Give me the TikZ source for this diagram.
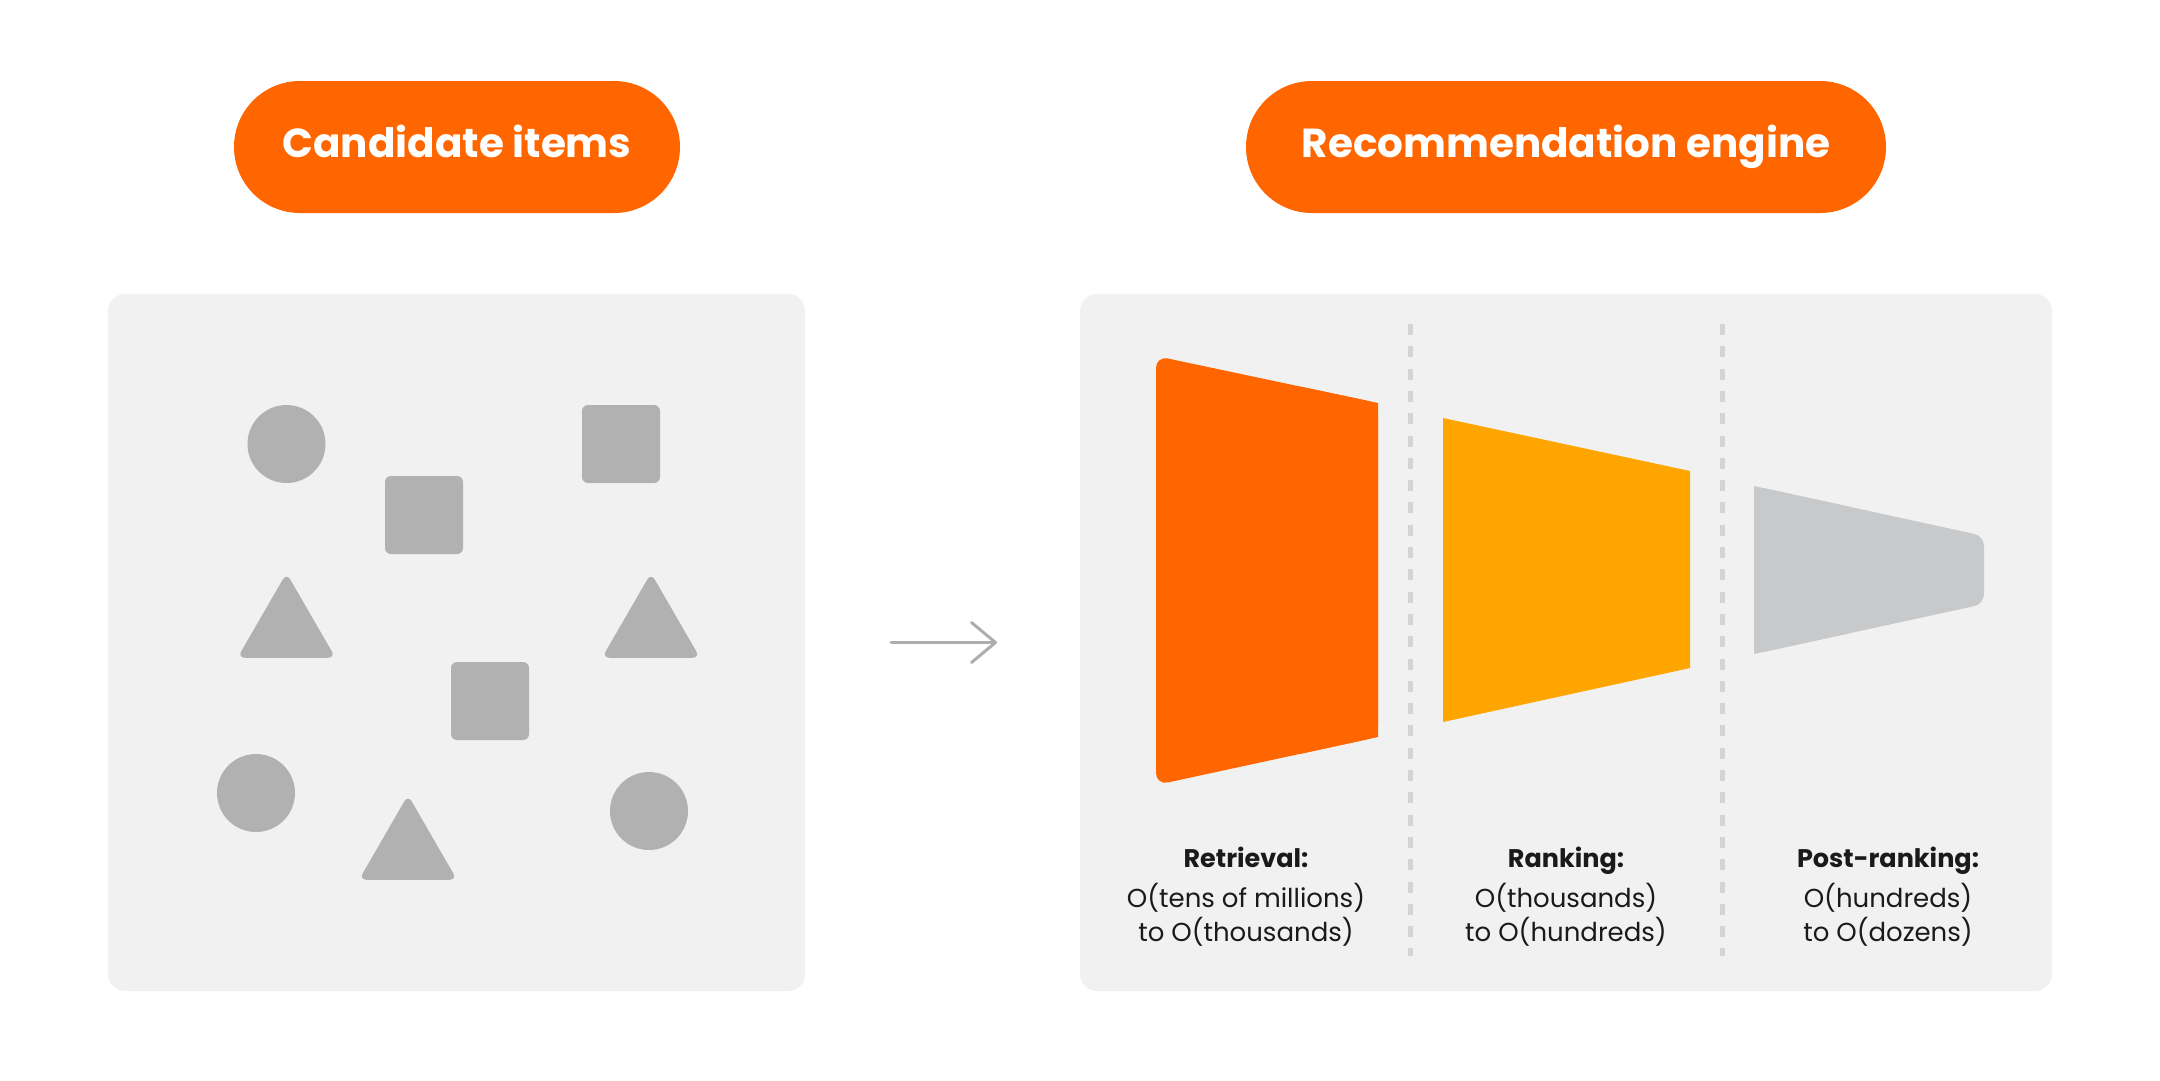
\documentclass[tikz,border=0pt]{standalone}
\usepackage{fontspec}
\setmainfont{Poppins}
\usetikzlibrary{arrows.meta}
\definecolor{gorange}{HTML}{FF6600}
\definecolor{gyellow}{HTML}{FFA500}
\definecolor{panelgray}{HTML}{F1F1F1}
\definecolor{itemgray}{HTML}{B0B1B0}
\definecolor{funnelgray}{HTML}{C8C9CB}
\definecolor{dashgray}{HTML}{D4D4D4}
\definecolor{arrowgray}{HTML}{AEAEAE}
\definecolor{txt}{HTML}{1A1A1A}
\tikzset{
  pill/.style={fill=gorange, rounded corners=66pt, minimum height=132pt, inner sep=0pt,
    text=white, font=\bfseries\fontsize{40.5}{47}\selectfont, text height=20pt, text depth=0pt},
  panel/.style={fill=panelgray, rounded corners=17pt, minimum height=697pt, inner sep=0pt},
  dotitem/.style={circle, fill=itemgray, minimum size=78pt, inner sep=0pt},
  sqitem/.style={rectangle, fill=itemgray, rounded corners=6pt, minimum size=78pt, inner sep=0pt},
  trifill/.style={fill=itemgray, rounded corners=7.5pt},
  dashline/.style={draw=dashgray, line width=5pt, dash pattern=on 11pt off 11.3pt},
  stagetitle/.style={anchor=base, text=txt, font=\bfseries\fontsize{25.5}{30}\selectfont, inner sep=0pt},
  stagebody/.style={anchor=base, text=txt, font=\fontsize{26}{31}\selectfont, inner sep=0pt},
  flowarrow/.style={draw=arrowgray, line width=3pt, line cap=round,
    -{Straight Barb[length=24pt, width=40pt, line cap=round, line join=round]}}
}
\begin{document}
\begin{tikzpicture}[x=1pt,y=-1pt]
\useasboundingbox[fill=white] (0,0) rectangle (2160,1080);

% headers
\node[pill, minimum width=446pt] (cand) at (457,147) {Candidate items};
\node[pill, minimum width=640pt] (reng) at (1566,147) {Recommendation engine};

% panels
\node[panel, minimum width=697pt] (lpanel) at (456.5,642.5) {};
\node[panel, minimum width=972pt] (rpanel) at (1566,642.5) {};

% candidate items
\node[dotitem] (c1) at (286.5,444) {};
\node[dotitem] (c2) at (256,793) {};
\node[dotitem] (c3) at (649,811) {};
\node[sqitem] (s1) at (424,515) {};
\node[sqitem] (s2) at (621,444) {};
\node[sqitem] (s3) at (490,701) {};
\foreach \n/\cx/\cy in {t1/286.5/629.5, t2/651/629.5, t3/408/851.5}{
  \coordinate (\n) at (\cx,\cy);
  \fill[trifill] (\cx,\cy+28.25) -- (\cx+49,\cy+28.25) -- (\cx,\cy-56.5)
     -- (\cx-49,\cy+28.25) -- cycle;
}

% arrow
\coordinate (arrS) at (891,642.5);
\coordinate (arrE) at (997,642.5);
\draw[flowarrow] (arrS) -- (arrE);

% dashed separators
\coordinate (d1a) at (1410,324);
\coordinate (d1b) at (1410,956);
\coordinate (d2a) at (1722,324);
\coordinate (d2b) at (1722,956);
\draw[dashline] (d1a) -- (d1b);
\draw[dashline] (d2a) -- (d2b);

% funnel stages
\fill[gorange, rounded corners=12pt] (1156,356) -- (1378,403) -- (1378,737) -- (1156,785) -- cycle;
\fill[gorange] (1300,386.5) -- (1378,403) -- (1378,737) -- (1300,753.9) -- cycle;

\fill[gyellow] (1443,418) -- (1690,471) -- (1690,668) -- (1443,722) -- cycle;

\fill[funnelgray, rounded corners=10pt] (1754,486) -- (1984,536) -- (1984,604) -- (1754,654) -- cycle;
\fill[funnelgray] (1754,486) -- (1850,506.9) -- (1850,633.1) -- (1754,654) -- cycle;

% labels
\node[stagetitle] (rett) at (1246,867) {Retrieval:};
\node[stagebody] (retb1) at (1246,907) {O(tens of millions)};
\node[stagebody] (retb2) at (1246,941) {to O(thousands)};

\node[stagetitle] (rnkt) at (1566,867) {Ranking:};
\node[stagebody] (rnkb1) at (1566,907) {O(thousands)};
\node[stagebody] (rnkb2) at (1566,941) {to O(hundreds)};

\node[stagetitle] (post) at (1888,867) {Post-ranking:};
\node[stagebody] (postb1) at (1888,907) {O(hundreds)};
\node[stagebody] (postb2) at (1888,941) {to O(dozens)};
\end{tikzpicture}
\end{document}
